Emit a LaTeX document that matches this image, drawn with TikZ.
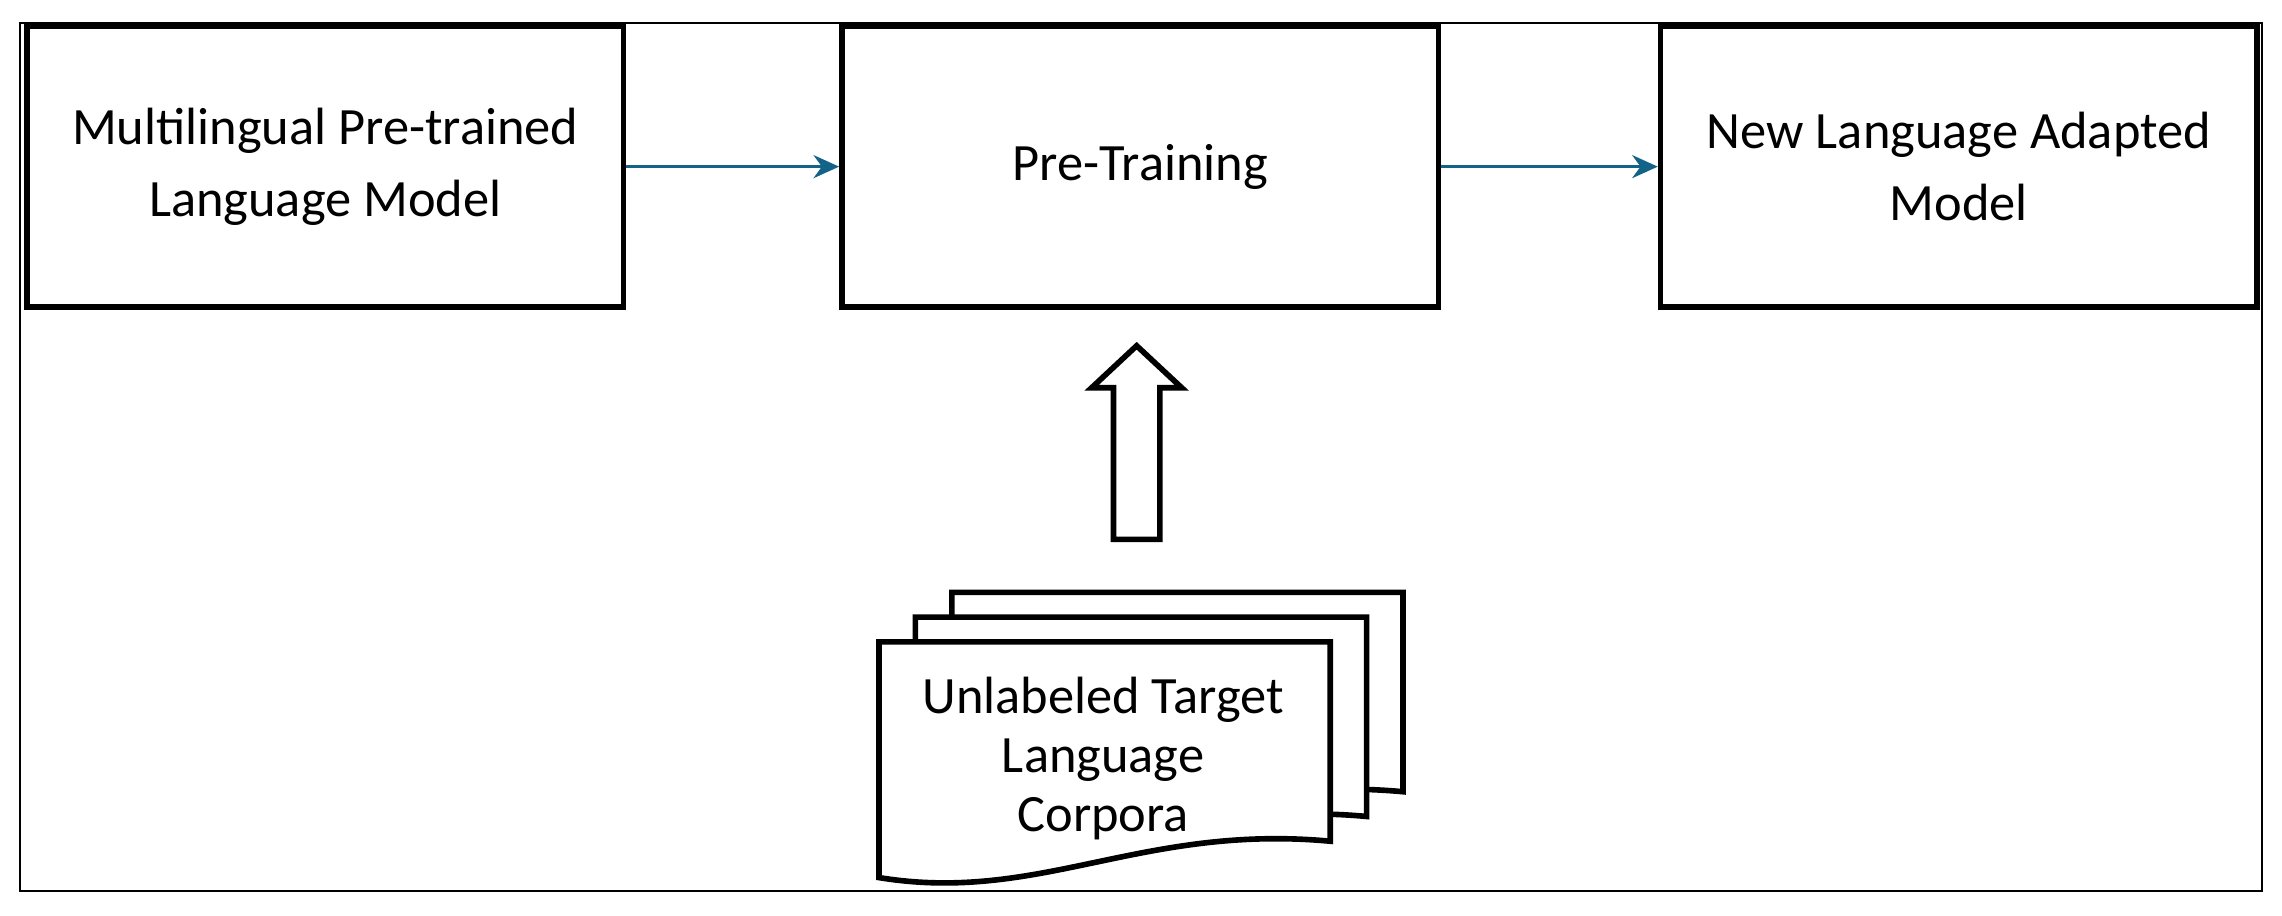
\documentclass[tikz,border=0pt]{standalone}
\usepackage{fontspec}
\setmainfont{Carlito}
\usetikzlibrary{positioning, arrows.meta, shapes.arrows}
\definecolor{flowblue}{RGB}{18,99,135}
\tikzset{
  Box/.style = {draw, line width=2.2pt, minimum width=8.2cm, minimum height=3.85cm,
    align=center, font=\fontsize{20.5}{28}\selectfont},
  Flow/.style = {flowblue, line width=1.3pt, -{Stealth[length=10pt, width=9pt]}},
  Page/.style = {draw, line width=2.2pt, fill=white}
}
\newcommand{\docpage}[2]{%
  \begin{scope}[shift={(#1,#2)}]
    \draw[Page] (0,0) -- (0,-3.24) .. controls (2.2,-3.6) and (3.6,-2.5) .. (6.2,-2.74) -- (6.2,0) -- cycle;
  \end{scope}}
\begin{document}
\begin{tikzpicture}
  \useasboundingbox (0,0) rectangle (31.36,-12.58);
  \draw[line width=0.8pt] (0.28,-0.32) rectangle (31.08,-12.24);

  \node[Box] (mplm) at (4.47,-2.29) {Multilingual Pre-trained\\Language Model};
  \node[Box] (pt) at (15.67,-2.29) {Pre-Training};
  \node[Box] (nlam) at (26.92,-2.29) {New Language Adapted\\Model};

  \draw[Flow] (mplm.east) -- (pt.west);
  \draw[Flow] (pt.east) -- (nlam.west);

  % stacked corpora pages
  \docpage{13.08}{-8.14}
  \docpage{12.58}{-8.48}
  \docpage{12.08}{-8.82}
  \node[align=center, font=\fontsize{20.5}{23}\selectfont] (corpus) at (15.16,-10.42)
    {Unlabeled Target\\Language\\Corpora};

  \node[single arrow, draw, line width=2.2pt, rotate=90, minimum height=2.66cm,
    minimum width=1.16cm, single arrow head extend=0.3cm, single arrow tip angle=94,
    inner sep=0.28cm] (uparrow) at (15.62,-6.23) {};
\end{tikzpicture}
\end{document}
